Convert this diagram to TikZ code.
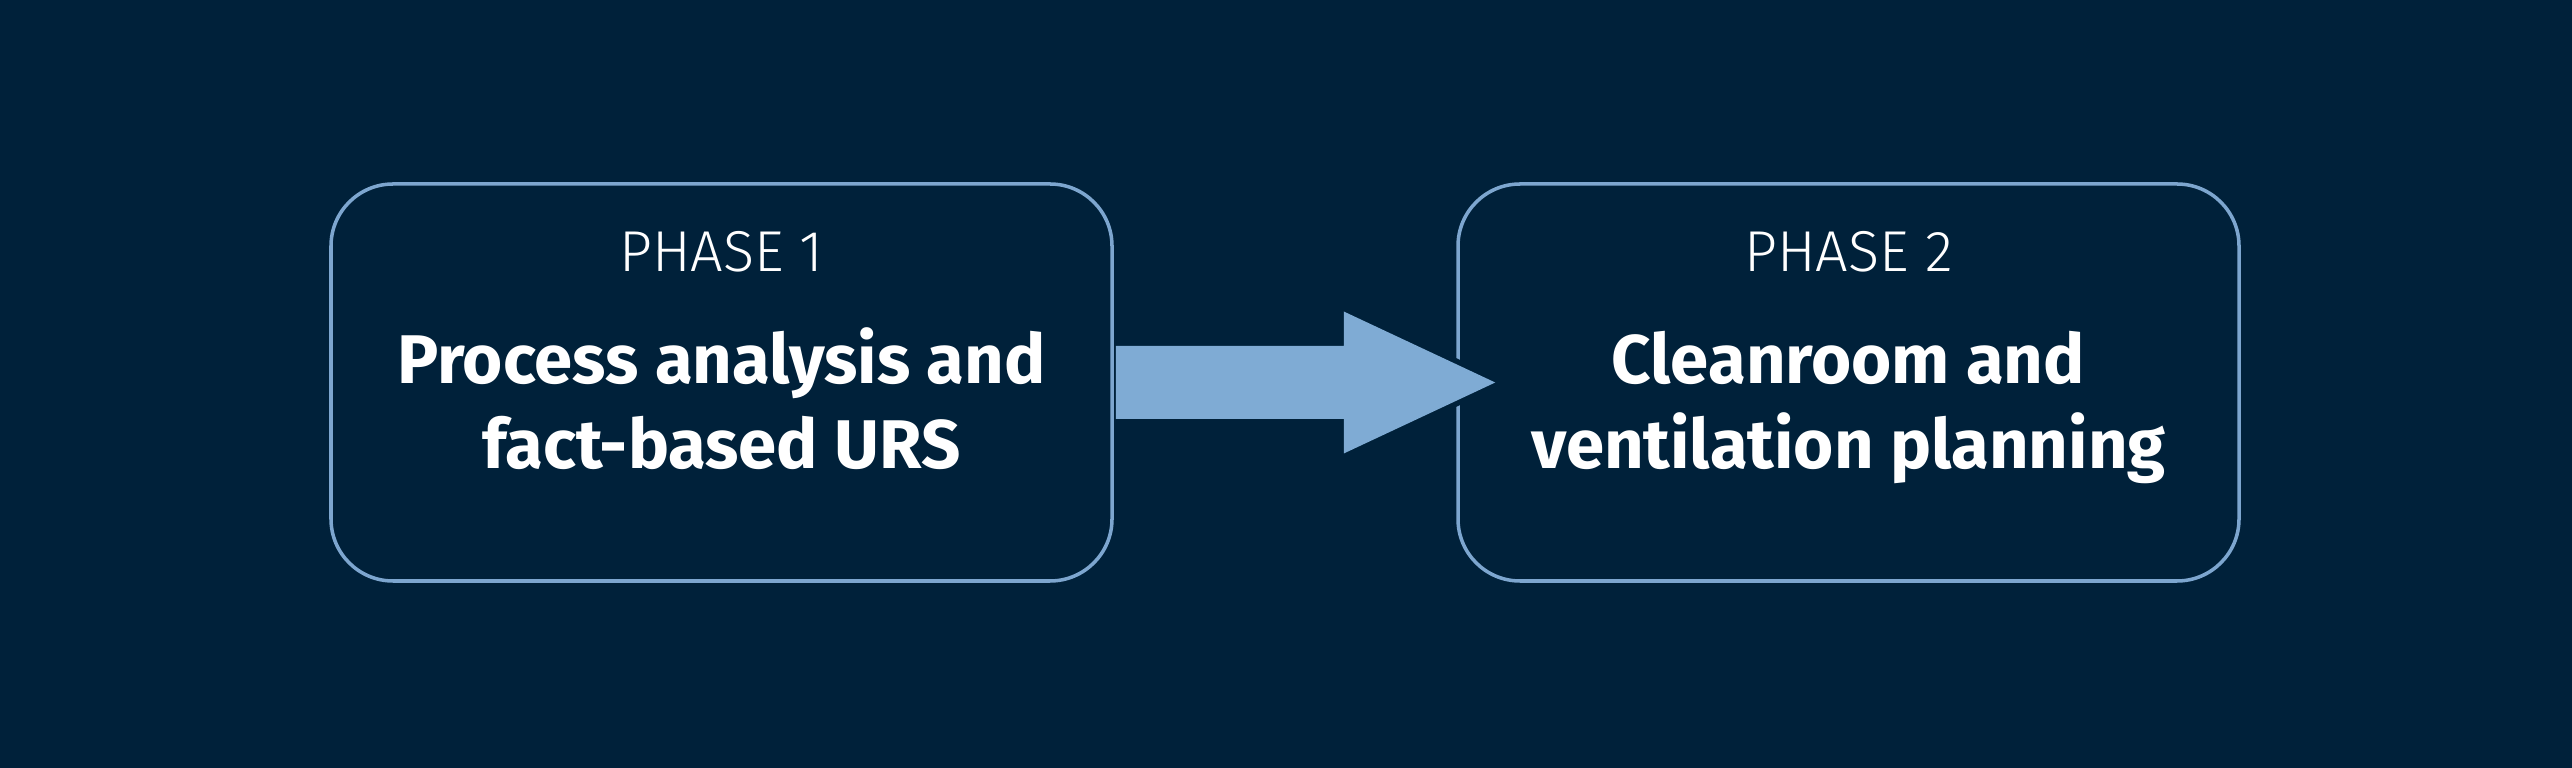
\documentclass[tikz,border=0pt]{standalone}
\usepackage{fontspec}
\setmainfont{Fira Sans}
\newfontfamily\phaselight{Fira Sans Light}
\usepackage{tikz}
\usetikzlibrary{positioning,calc}
\definecolor{pnavy}{RGB}{0,33,58}
\definecolor{pline}{RGB}{125,166,207}
\definecolor{parrow}{RGB}{127,171,212}

\begin{document}
\begin{tikzpicture}[
  x=1mm, y=1mm,
  pbox/.style={draw=pline, line width=1pt, rounded corners=6.2mm, fill=pnavy,
               minimum width=78.1mm, minimum height=39.7mm, inner sep=0pt},
  plabel/.style={text=white, font=\phaselight\fontsize{16.4}{18}\selectfont, inner sep=0pt},
  ptitle/.style={text=white, font=\bfseries\fontsize{19.6}{24.2}\selectfont, align=center, inner sep=0pt},
  parr/.style={fill=parrow},
  pcut/.style={draw=pnavy, line width=1.1mm},
]
  % background and frame
  \fill[pnavy] (0,0) rectangle (257.2,76.8);
  \useasboundingbox (0,0) rectangle (257.2,76.8);
  % 1. phase boxes
  \node[pbox] (p1) at (72.15,38.55) {};
  \node[pbox] (p2) at (184.85,38.55) {};
  % 2. texts
  \node[plabel, anchor=base] (p1lab) at ($(p1.north)+(0,-8.9)$) {PHASE 1};
  \node[plabel, anchor=base] (p2lab) at ($(p2.north)+(0,-8.9)$) {PHASE 2};
  \node[ptitle, anchor=base] (p1txt) at ($(p1.north)+(0,-28.6)$)
    {Process analysis and\\fact-based URS};
  \node[ptitle, anchor=base] (p2txt) at ($(p2.north)+(0,-28.6)$)
    {Cleanroom and\\ventilation planning};
  % 3. arrow
  \coordinate (tip) at ($(p2.west)+(3.9,0)$);
  \draw[pcut] ($(p1.east)+(23,7.1)$) -- (tip) -- ($(p1.east)+(23,-7.1)$);
  \fill[parr] ($(p1.east)+(0.2,3.65)$) -- ++(22.8,0) -- ++(0,3.45) -- (tip)
    -- ($(p1.east)+(23,-7.1)$) -- ++(0,3.45) -- ($(p1.east)+(0.2,-3.65)$) -- cycle;
\end{tikzpicture}
\end{document}
